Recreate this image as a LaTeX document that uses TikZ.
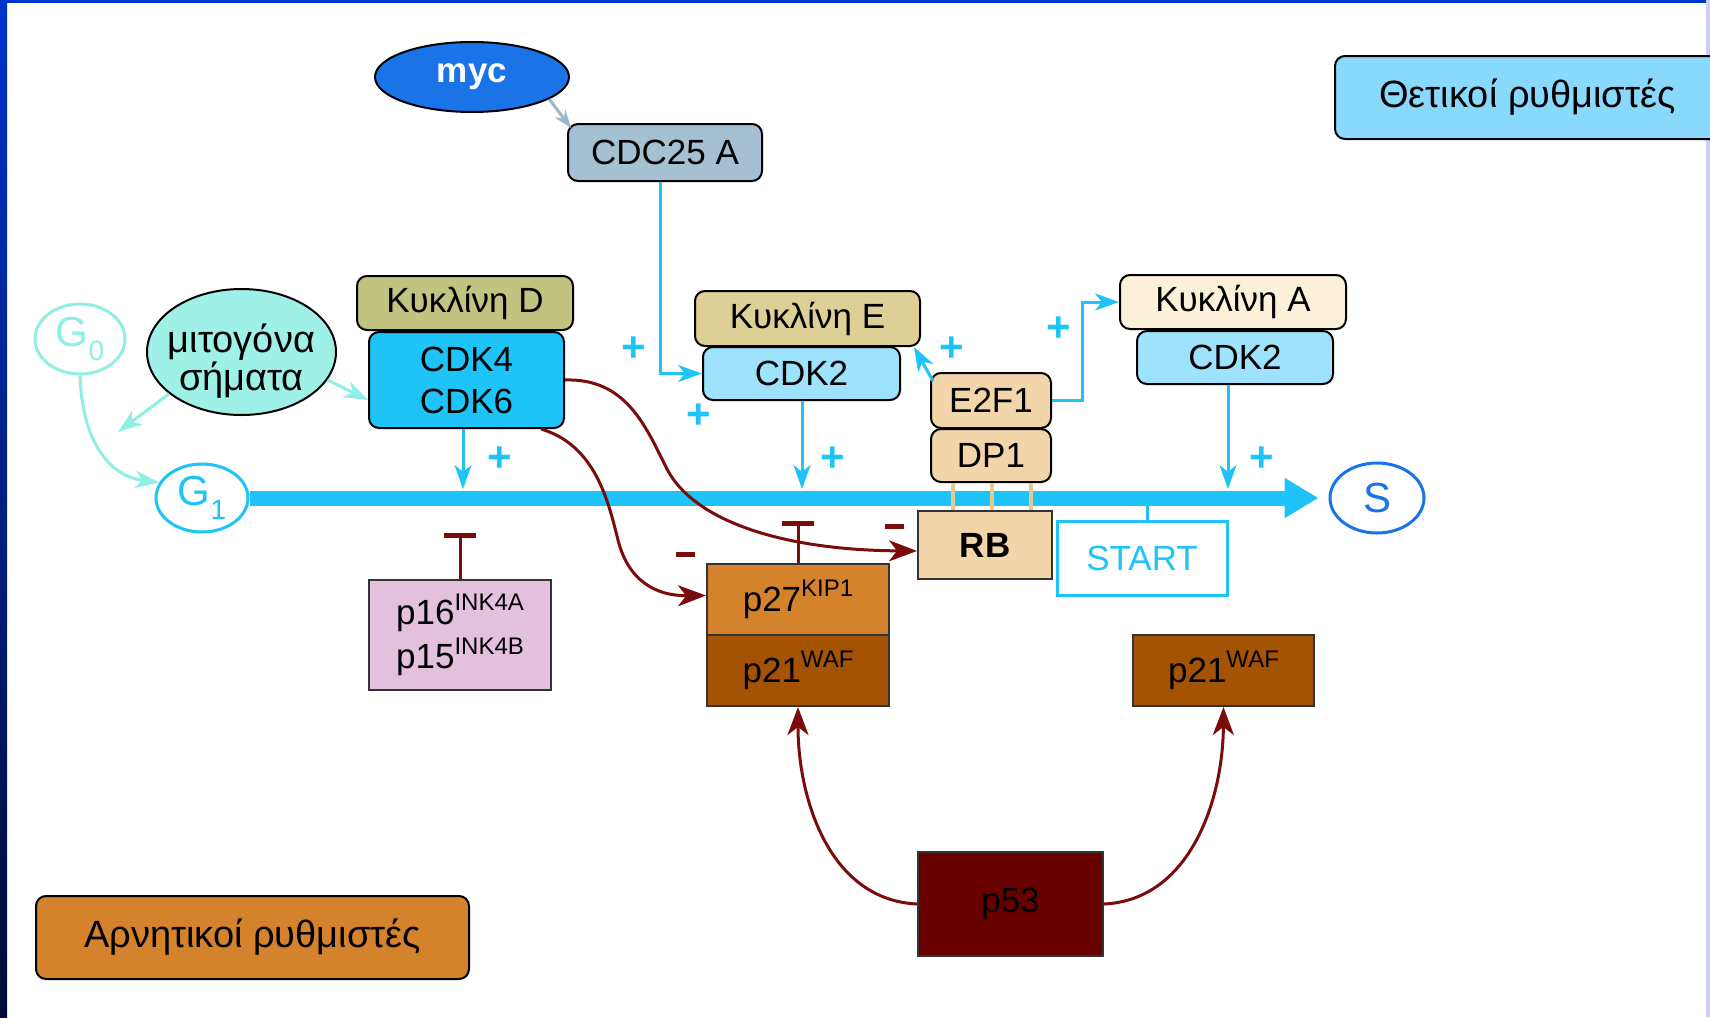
\documentclass[tikz,border=0pt]{standalone}
\usepackage{fontspec}
\setmainfont{Liberation Sans}
\usetikzlibrary{arrows.meta,shapes.geometric}

\definecolor{framebl}{HTML}{0033CC}
\definecolor{framedk}{HTML}{000B33}
\definecolor{framelav}{HTML}{CCCCFF}
\definecolor{cyanline}{HTML}{1EC3F7}
\definecolor{mint}{HTML}{8EEFE2}
\definecolor{darkred}{HTML}{7B0C0C}
\definecolor{steel}{HTML}{9AB7CC}
\definecolor{mycblue}{HTML}{1A74E8}
\definecolor{cdcfill}{HTML}{A5BFD3}
\definecolor{cycDfill}{HTML}{C0C480}
\definecolor{cdk46fill}{HTML}{1EC3F7}
\definecolor{cycEfill}{HTML}{DDCF95}
\definecolor{cdk2fill}{HTML}{9FE2FB}
\definecolor{tanfill}{HTML}{F2D5A8}
\definecolor{tanline}{HTML}{E6C898}
\definecolor{cycAfill}{HTML}{FBF0D8}
\definecolor{mitofill}{HTML}{9FF0E6}
\definecolor{posfill}{HTML}{88D9FB}
\definecolor{orangefill}{HTML}{D4832C}
\definecolor{brownfill}{HTML}{A45204}
\definecolor{pinkfill}{HTML}{E3C1DD}
\definecolor{p53fill}{HTML}{680000}

\newcommand\supx[1]{\raisebox{0.42em}{\fontsize{24}{24}\selectfont #1}}
\newcommand\subx[1]{\raisebox{-0.34em}{\fontsize{28}{28}\selectfont #1}}

\begin{document}
\begin{tikzpicture}[x=1pt,y=-1pt,
  lbl/.style={font=\fontsize{35}{42}\selectfont},
  rbox/.style={lbl, draw=black, line width=2pt, rounded corners=10pt, inner sep=0pt, align=center},
  sbox/.style={lbl, draw=black!80, line width=2pt, inner sep=0pt, align=center},
  phase/.style={ellipse, draw, line width=3pt, inner sep=0pt, font=\fontsize{42}{42}\selectfont},
  actarrow/.style={draw=cyanline, line width=3pt, -{Stealth[length=24pt,width=17pt,inset=7pt]}},
  signal/.style={draw=mint, line width=3pt, -{Stealth[length=24pt,width=17pt,inset=7pt]}},
  negarrow/.style={draw=darkred, line width=3pt, -{Stealth[length=28pt,width=21pt,inset=8pt]}},
  inhib/.style={draw=darkred, line width=3pt, -{Bar[width=32pt,line width=5pt]}},
  plussign/.style={text=cyanline, inner sep=0pt, font=\fontsize{42}{42}\selectfont\bfseries},
  minussign/.style={fill=darkred, inner sep=0pt, minimum width=19pt, minimum height=5pt}
]
\useasboundingbox (0,0) rectangle (1710,1017);
\clip (0,0) rectangle (1710,1017);
\fill[white] (0,0) rectangle (1710,1017);

% frame
\shade[top color=framebl, bottom color=framedk] (0,0) rectangle (7,1017);
\fill[framebl] (0,0) rectangle (1706,3);
\fill[framelav] (1706,0) rectangle (1710,1017);

% phases
\node[phase, draw=mint, text=mint, minimum width=90pt, minimum height=70pt] (G0) at (80,339) {G\subx{0}};
\node[phase, draw=cyanline, text=cyanline, minimum width=92pt, minimum height=68pt] (G1) at (202,498) {G\subx{1}};
\node[phase, draw=mycblue, text=mycblue, minimum width=94pt, minimum height=70pt] (S) at (1377,498) {S};

% main progression bar
\draw[cyanline, line width=15pt, -{Triangle[length=34pt,width=38pt]}, shorten >=10pt] (G1) -- (S);

% top regulators
\node[ellipse, draw=black, line width=2pt, fill=mycblue, text=white, inner sep=0pt,
      minimum width=194pt, minimum height=70pt, font=\fontsize{35}{40}\selectfont\bfseries] (myc) at (472,77) {myc};
\node[rbox, fill=cdcfill, minimum width=194pt, minimum height=57pt] (CDC) at (665,152.5) {CDC25 A};
\node[ellipse, draw=black, line width=2pt, fill=mitofill, inner xsep=-14pt, inner ysep=-6pt,
      minimum width=189pt, minimum height=126pt, font=\fontsize{38}{36}\selectfont] (mito) at (241.5,352)
      {\raisebox{-9pt}[\height][\depth]{\parbox{150pt}{\centering μιτογόνα\\σήματα}}};

% cyclin / CDK complexes
\node[rbox, fill=cycDfill, minimum width=216pt, minimum height=54pt] (cycD) at (465,303) {Κυκλίνη D};
\node[rbox, fill=cdk46fill, minimum width=195pt, minimum height=96pt] (CDK) at (466.5,380) {CDK4\\CDK6};
\node[rbox, fill=cycEfill, minimum width=225pt, minimum height=55pt] (cycE) at (807.5,318.5) {Κυκλίνη E};
\node[rbox, fill=cdk2fill, minimum width=197pt, minimum height=53pt] (CDK2E) at (801.5,373.5) {CDK2};
\node[rbox, fill=cycAfill, minimum width=226pt, minimum height=54pt] (cycA) at (1233,302) {Κυκλίνη A};
\node[rbox, fill=cdk2fill, minimum width=196pt, minimum height=53pt] (CDK2A) at (1235,357.5) {CDK2};

% E2F1 / DP1 / RB
\node[rbox, fill=tanfill, minimum width=120pt, minimum height=55pt] (E2F) at (991,400.5) {E2F1};
\node[rbox, fill=tanfill, minimum width=120pt, minimum height=53pt] (DP) at (991,455.5) {DP1};
\node[sbox, fill=tanfill, minimum width=134pt, minimum height=68pt, font=\fontsize{35}{40}\selectfont\bfseries] (RB) at (985,545) {RB};
\foreach \d in {-38,1,40}
  \draw[tanline, line width=4pt] ([xshift=\d pt]DP.south) -- ([xshift=\d pt]DP.south |- RB.north);
\node[lbl, draw=cyanline, line width=3pt, text=cyanline, fill=white, inner sep=0pt,
      minimum width=170pt, minimum height=74pt] (START) at (1142,558) {START};
\coordinate (bs) at (1147,505);
\draw[cyanline, line width=3pt] (bs) -- (bs |- START.north);

% CDK inhibitors and p53
\node[sbox, fill=pinkfill, minimum width=182pt, minimum height=110pt, align=left] (p16) at (460,635) {p16\supx{INK4A}\\[2pt]p15\supx{INK4B}};
\node[sbox, fill=orangefill, minimum width=182pt, minimum height=71pt] (p27) at (798,599.5) {p27\supx{KIP1}};
\node[sbox, fill=brownfill, minimum width=182pt, minimum height=71pt] (p21a) at (798,670.5) {p21\supx{WAF}};
\node[sbox, fill=brownfill, minimum width=181pt, minimum height=71pt] (p21b) at (1223.5,670.5) {p21\supx{WAF}};
\node[sbox, fill=p53fill, minimum width=185pt, minimum height=104pt] (p53) at (1010.5,904) {p53};

% legend
\node[rbox, fill=posfill, minimum width=385pt, minimum height=83pt, font=\fontsize{38}{42}\selectfont] (legpos) at (1527.5,97.5) {Θετικοί ρυθμιστές};
\node[rbox, fill=orangefill, minimum width=433pt, minimum height=83pt, font=\fontsize{38}{42}\selectfont] (legneg) at (252.5,937.5) {Αρνητικοί ρυθμιστές};

% activating connectors
\draw[steel, line width=3pt, -{Stealth[length=18pt,width=13pt,inset=6pt]}] (myc.-16) -- ([xshift=4pt,yshift=-5pt]CDC.north west);
\draw[actarrow] ([xshift=-5pt]CDC.south) |- (CDK2E.west);
\draw[actarrow] (E2F.east) -- ++(30,0) |- (cycA.west);
\draw[actarrow] ([xshift=3pt,yshift=-9pt]E2F.north west) -- ([xshift=-7pt]cycE.south east);
\coordinate (b1) at (463,489);
\coordinate (b2) at (802,489);
\coordinate (b3) at (1228,489);
\draw[actarrow] (CDK.south -| b1) -- (b1);
\draw[actarrow] (CDK2E.south -| b2) -- (b2);
\draw[actarrow] (CDK2A.south -| b3) -- (b3);

% mitogenic signals and G0 exit
\coordinate (g0g1) at (118,432);
\draw[signal] (G0.south) .. controls (82,440) and (108,476) .. (G1.160);
\draw[signal] (mito.210) -- (g0g1);
\draw[signal] (mito.-18) -- ([yshift=-20pt]CDK.west);

% inhibitory connectors
\draw[negarrow] (CDK.east) .. controls (625,378) and (645,425) .. (665,465)
           .. controls (690,520) and (780,550) .. ([yshift=-6pt]RB.west);
\draw[negarrow] ([xshift=-24pt]CDK.south east) .. controls (595,445) and (608,500) .. (618,540)
           .. controls (628,580) and (655,596) .. ([yshift=4pt]p27.west);
\draw[inhib] (p16.north) -- ++(0,-46);
\draw[inhib] (p27.north) -- ++(0,-42);
\draw[negarrow] (p53.west) .. controls (830,900) and (798,800) .. (p21a.south);
\draw[negarrow] (p53.east) .. controls (1190,900) and (1223,800) .. (p21b.south);

% signs
\node[plussign] at (500,459) {+};
\node[plussign] at (833,459) {+};
\node[plussign] at (1262,459) {+};
\node[plussign] at (634,349) {+};
\node[plussign] at (699,416) {+};
\node[plussign] at (952,349) {+};
\node[plussign] at (1059,329) {+};
\node[minussign] at (685,554) {};
\node[minussign] at (894,526) {};
\end{tikzpicture}
\end{document}
